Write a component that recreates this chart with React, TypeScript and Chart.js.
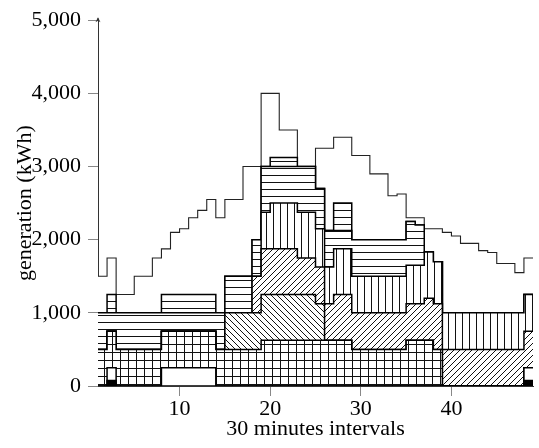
import React, { useEffect, useRef } from "react";
import { Chart, registerables } from "chart.js";

Chart.register(...registerables);

// 30-minute intervals (x positions of the const-plot steps)
const intervals = [
  1, 2, 3, 4, 5, 6, 7, 8, 9, 10, 11, 12, 13, 14, 15, 16, 17, 18, 19, 20, 21, 22, 23, 24,
  25, 26, 27, 28, 29, 30, 31, 32, 33, 34, 35, 36, 37, 38, 39, 40, 41, 42, 43, 44, 45, 46, 47, 48,
];
const xEnd = 49;

// Stacked generation layers (kWh), bottom to top
const solidLayer = [
  0, 75, 0, 0, 0, 0, 0, 0, 0, 0, 0, 0, 0, 0, 0, 0, 0, 0, 0, 0, 0, 0, 0, 0,
  0, 0, 0, 0, 0, 0, 0, 0, 0, 0, 0, 0, 0, 0, 0, 0, 0, 0, 0, 0, 0, 0, 0, 75,
];
const emptyLowLayer = [
  0, 175, 0, 0, 0, 0, 0, 250, 250, 250, 250, 250, 250, 0, 0, 0, 0, 0, 0, 0, 0, 0, 0, 0,
  0, 0, 0, 0, 0, 0, 0, 0, 0, 0, 0, 0, 0, 0, 0, 0, 0, 0, 0, 0, 0, 0, 0, 175,
];
const gridLayer = [
  500, 500, 500, 500, 500, 500, 500, 500, 500, 500, 500, 500, 500, 500, 500, 500, 500, 500, 625, 625, 625, 625, 625, 625,
  625, 625, 625, 625, 500, 500, 500, 500, 500, 500, 625, 625, 625, 500, 0, 0, 0, 0, 0, 0, 0, 0, 0, 0,
];
const nwLayer = [
  0, 0, 0, 0, 0, 0, 0, 0, 0, 0, 0, 0, 0, 0, 500, 500, 500, 500, 625, 625, 625, 625, 625, 625,
  500, 0, 0, 0, 0, 0, 0, 0, 0, 0, 0, 0, 0, 0, 0, 0, 0, 0, 0, 0, 0, 0, 0, 0,
];
const neLayer = [
  0, 0, 0, 0, 0, 0, 0, 0, 0, 0, 0, 0, 0, 0, 0, 0, 0, 500, 625, 625, 625, 625, 500, 500,
  500, 500, 625, 625, 500, 500, 500, 500, 500, 500, 500, 500, 575, 625, 500, 500, 500, 500, 500, 500, 500, 500, 500, 500,
];
const verticalLayer = [
  0, 0, 0, 0, 0, 0, 0, 0, 0, 0, 0, 0, 0, 0, 0, 0, 0, 0, 500, 625, 625, 625, 625, 625,
  525, 500, 625, 625, 500, 500, 500, 500, 500, 500, 525, 525, 630, 575, 500, 500, 500, 500, 500, 500, 500, 500, 500, 500,
];
const horizontalLayerA = [
  500, 250, 500, 500, 500, 500, 500, 250, 250, 250, 250, 250, 250, 500, 500, 500, 500, 500, 625, 500, 500, 500, 625, 625,
  550, 500, 250, 250, 500, 500, 500, 500, 500, 500, 600, 550, 0, 0, 0, 0, 0, 0, 0, 0, 0, 0, 0, 0,
];
const horizontalLayerB = [
  0, 250, 0, 0, 0, 0, 0, 250, 250, 250, 250, 250, 250, 0, 0, 0, 0, 0, 0, 125, 125, 125, 0, 0,
  0, 0, 375, 375, 0, 0, 0, 0, 0, 0, 0, 0, 0, 0, 0, 0, 0, 0, 0, 0, 0, 0, 0, 0,
];
const emptyTopLayer = [
  500, 500, 250, 250, 500, 500, 750, 625, 850, 900, 1050, 1150, 1300, 1300, 1050, 1050, 1500, 1000, 1000, 875, 375, 375, 0, 0,
  550, 1125, 900, 900, 1150, 1150, 900, 900, 600, 625, 50, 100, 320, 450, 1100, 1050, 950, 950, 850, 825, 675, 675, 550, 500,
];

// star marks sitting on the low empty layer
const starX = [10, 12.5];
const starY = [250, 250];

const xTicks = [10, 20, 30, 40];
const yTicks = [0, 1000, 2000, 3000, 4000, 5000];

const FONT = "'Liberation Serif', 'Times New Roman', serif";
const FSIZE = 22;

function makePattern(kind: string): CanvasPattern | string {
  if (kind === "solid") return "#000";
  if (kind === "empty") return "#fff";
  const s = kind === "grid" ? 8 : kind === "ne" || kind === "nw" ? 6 : 7;
  const c = document.createElement("canvas");
  c.width = s;
  c.height = s;
  const g = c.getContext("2d")!;
  g.fillStyle = "#fff";
  g.fillRect(0, 0, s, s);
  g.strokeStyle = "#111";
  g.lineWidth = 1;
  g.beginPath();
  if (kind === "grid") {
    g.moveTo(0, 0.5);
    g.lineTo(s, 0.5);
    g.moveTo(0.5, 0);
    g.lineTo(0.5, s);
  } else if (kind === "h") {
    g.moveTo(0, 0.5);
    g.lineTo(s, 0.5);
  } else if (kind === "v") {
    g.moveTo(0.5, 0);
    g.lineTo(0.5, s);
  } else if (kind === "ne") {
    g.moveTo(0, s);
    g.lineTo(s, 0);
    g.moveTo(-1, 1);
    g.lineTo(1, -1);
    g.moveTo(s - 1, s + 1);
    g.lineTo(s + 1, s - 1);
  } else if (kind === "nw") {
    g.moveTo(0, 0);
    g.lineTo(s, s);
    g.moveTo(-1, s - 1);
    g.lineTo(1, s + 1);
    g.moveTo(s - 1, -1);
    g.lineTo(s + 1, 1);
  }
  g.stroke();
  return g.createPattern(c, "repeat")!;
}

function halfStar(): HTMLCanvasElement {
  const c = document.createElement("canvas");
  c.width = 11;
  c.height = 11;
  const g = c.getContext("2d")!;
  const cx = 5.5, cy = 5.5, R = 5, r = 2.2;
  g.save();
  g.beginPath();
  g.rect(0, cy, 11, 6);
  g.clip();
  g.beginPath();
  for (let i = 0; i < 10; i++) {
    const a = -Math.PI / 2 + (i * Math.PI) / 5;
    const rad = i % 2 === 0 ? R : r;
    const px = cx + rad * Math.cos(a);
    const py = cy + rad * Math.sin(a);
    if (i === 0) g.moveTo(px, py);
    else g.lineTo(px, py);
  }
  g.closePath();
  g.fillStyle = "#000";
  g.fill();
  g.restore();
  return c;
}

const arrowPlugin = {
  id: "axisArrow",
  afterDraw(chart: any) {
    const { ctx, chartArea } = chart;
    const x = chartArea.left;
    const y = chartArea.top - 2;
    ctx.save();
    ctx.strokeStyle = "#333";
    ctx.fillStyle = "#333";
    ctx.lineWidth = 1;
    ctx.beginPath();
    ctx.moveTo(x, chartArea.top);
    ctx.lineTo(x, y);
    ctx.stroke();
    ctx.beginPath();
    ctx.moveTo(x, y - 1);
    ctx.lineTo(x - 2.5, y + 4);
    ctx.lineTo(x, y + 2.5);
    ctx.lineTo(x + 2.5, y + 4);
    ctx.closePath();
    ctx.fill();
    ctx.restore();
  },
};

export default function App() {
  const ref = useRef<HTMLCanvasElement | null>(null);

  useEffect(() => {
    if (!ref.current) return;
    const layers = [
      { label: "solid", values: solidLayer, kind: "solid", width: 1.5 },
      { label: "empty low", values: emptyLowLayer, kind: "empty", width: 1.5 },
      { label: "grid", values: gridLayer, kind: "grid", width: 1.5 },
      { label: "north west", values: nwLayer, kind: "nw", width: 1.5 },
      { label: "north east", values: neLayer, kind: "ne", width: 1.5 },
      { label: "vertical", values: verticalLayer, kind: "v", width: 1.5 },
      { label: "horizontal A", values: horizontalLayerA, kind: "h", width: 1.5 },
      { label: "horizontal B", values: horizontalLayerB, kind: "h", width: 1.5 },
      { label: "empty top", values: emptyTopLayer, kind: "empty", width: 1.1 },
    ];
    const datasets: any[] = layers.map((l, i) => ({
      label: l.label,
      data: [
        ...intervals.map((x, j) => ({ x, y: l.values[j] })),
        { x: xEnd, y: l.values[l.values.length - 1] },
      ],
      stepped: "before",
      fill: i === 0 ? "origin" : "-1",
      backgroundColor: makePattern(l.kind),
      borderColor: i === layers.length - 1 ? "#222" : "#000",
      borderWidth: l.width,
      pointRadius: 0,
      stack: "gen",
    }));
    datasets.push({
      label: "marks",
      data: starX.map((x, j) => ({ x, y: starY[j] })),
      showLine: false,
      fill: false,
      pointStyle: halfStar(),
      pointRadius: 5,
      stack: "marks",
    });

    const chart = new Chart(ref.current, {
      type: "line",
      data: { datasets },
      plugins: [arrowPlugin],
      options: {
        animation: false,
        responsive: false,
        devicePixelRatio: 1,
        layout: { padding: { top: 19, right: 1.4, left: 0, bottom: 0 } },
        plugins: { legend: { display: false }, tooltip: { enabled: false } },
        scales: {
          x: {
            type: "linear",
            min: 1,
            max: xEnd,
            afterBuildTicks: (s: any) => {
              s.ticks = xTicks.map((v) => ({ value: v }));
            },
            afterFit: (s: any) => {
              s.height = 62;
            },
            grid: { drawOnChartArea: false, drawTicks: true, tickLength: 10, color: "#888" },
            border: { display: true, color: "#333", width: 1 },
            ticks: { color: "#000", font: { family: FONT, size: FSIZE }, padding: 0, maxRotation: 0 },
            title: {
              display: true,
              text: "30 minutes intervals",
              color: "#000",
              font: { family: FONT, size: FSIZE },
              padding: { top: 0, bottom: 6 },
            },
          },
          y: {
            type: "linear",
            stacked: true,
            min: 0,
            max: 5000,
            afterBuildTicks: (s: any) => {
              s.ticks = yTicks.map((v) => ({ value: v }));
            },
            afterFit: (s: any) => {
              s.width = 98;
            },
            grid: { drawOnChartArea: false, drawTicks: true, tickLength: 10, color: "#888" },
            border: { display: true, color: "#333", width: 1 },
            ticks: {
              color: "#000",
              font: { family: FONT, size: FSIZE },
              padding: 7,
              callback: (v: any) => Number(v).toLocaleString("en-US"),
            },
            title: {
              display: true,
              text: "generation (kWh)",
              color: "#000",
              font: { family: FONT, size: FSIZE },
              padding: { top: 12, bottom: 0 },
            },
          },
        },
      } as any,
    });
    return () => chart.destroy();
  }, []);

  return (
    <div style={{ position: "fixed", left: 0, top: 0, width: 539, height: 448, background: "#fff" }}>
      <canvas ref={ref} width={539} height={448} style={{ display: "block", width: 539, height: 448 }} />
    </div>
  );
}
